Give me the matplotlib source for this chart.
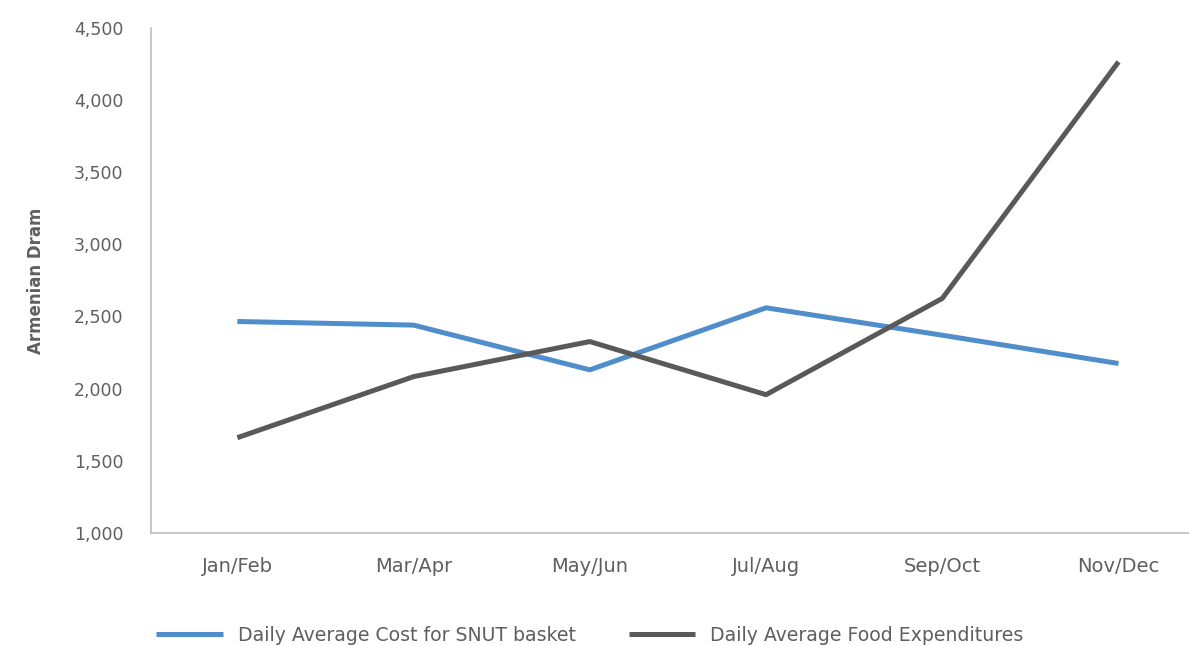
import matplotlib
matplotlib.use('Agg')
import matplotlib.pyplot as plt
from matplotlib.ticker import FuncFormatter

periods = ['Jan/Feb', 'Mar/Apr', 'May/Jun', 'Jul/Aug', 'Sep/Oct', 'Nov/Dec']
snut_cost = [2465, 2440, 2130, 2560, 2370, 2174]
food_exp = [1660, 2083, 2326, 1958, 2625, 4264]

BLUE = '#4F8DCB'
DARK = '#595959'
TEXT = '#5f5f5f'

plt.rcParams['font.family'] = ['DejaVu Sans']

fig = plt.figure(figsize=(11.89, 6.46), dpi=100)
ax = fig.add_axes([0.127, 0.175, 0.873, 0.782])

xs = range(len(periods))
ax.plot(xs, snut_cost, color=BLUE, lw=3.6, solid_capstyle='butt',
        label='Daily Average Cost for SNUT basket')
ax.plot(xs, food_exp, color=DARK, lw=3.6, solid_capstyle='butt',
        label='Daily Average Food Expenditures')

ax.set_ylim(1000, 4500)
ax.set_yticks(range(1000, 4501, 500))
ax.yaxis.set_major_formatter(FuncFormatter(lambda v, p: '{:,.0f}'.format(v)))
ax.set_xlim(-0.49, 5.4)
ax.set_xticks(list(xs))
ax.set_xticklabels(periods)
ax.tick_params(axis='both', length=0, labelcolor=TEXT)
ax.tick_params(axis='y', pad=20, labelsize=12.5)
ax.tick_params(axis='x', pad=17, labelsize=14)

for side in ['top', 'right']:
    ax.spines[side].set_visible(False)
for side in ['left', 'bottom']:
    ax.spines[side].set_color('#BFBFBF')
    ax.spines[side].set_linewidth(1.2)

ax.set_ylabel('Armenian Dram', fontsize=12, fontweight='bold', color=TEXT,
              labelpad=21)

fig.legend(loc='lower center', bbox_to_anchor=(0.496, -0.024), ncol=2,
           frameon=False, fontsize=13.6, handlelength=3.5,
           columnspacing=2.8, handletextpad=0.8, labelcolor=TEXT)

fig.savefig('out.png', dpi=100)
